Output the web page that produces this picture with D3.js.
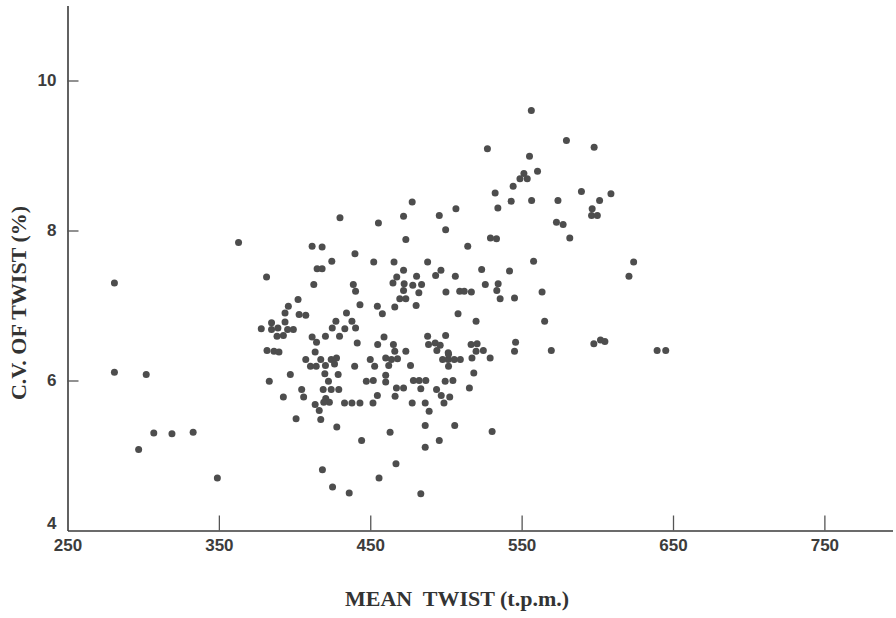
<html>
<head>
  <meta charset="utf-8">
  <title>Mean twist vs C.V. of twist</title>
  <script src="https://d3js.org/d3.v7.min.js"></script>
  <style>
    body { margin: 0; background: #ffffff; }
    .tick text { font-family: "Liberation Sans", Arial, sans-serif; font-weight: bold; font-size: 17px; fill: #3c3c3c; }
    .axis-title { font-family: "Liberation Serif", "Times New Roman", serif; font-weight: bold; font-size: 22px; fill: #333; white-space: pre; }
  </style>
</head>
<body>
  <svg id="chart" width="896" height="618"></svg>
  <script>
    // mean twist (t.p.m.) of each sample
    var meanTwist = [
      281, 281, 302, 307, 319, 333, 297, 349, 363, 381.5,
      430, 455.4, 411.6, 418.2, 439.9, 452.3, 424.6, 414.9, 418.2, 412.7,
      438.8, 440.3, 443.2, 454.7, 402.3, 395.9, 393.7, 403, 407.4, 378,
      384.8, 384.8, 389, 393.7, 395.4, 399.2, 388.4, 392.6, 381.8, 386.4,
      389.7, 397.2, 383.3, 392.6, 404.7, 406, 401, 434.3, 427.3, 424.9,
      433.2, 437.9, 440.3, 420.4, 411.6, 414.5, 429.7, 441.4, 454.9, 413.6,
      407.4, 417.3, 424.2, 427.7, 426.4, 410.5, 414.3, 420.4, 439.7, 450,
      452.9, 420, 428.8, 422.4, 447.4, 452, 418.9, 424.2, 429.2, 454.7,
      420.6, 423, 419.3, 416.3, 413.6, 433, 437.9, 443.2, 451.8, 417.3,
      427.9, 444.3, 418.4, 425.1, 436.1, 455.8,
      544.4, 532.5, 543.1, 556.6, 534.3, 477.7, 506.6, 472, 495.6, 499.8,
      473.5, 529.4, 533.4, 514.4, 465.7, 487.9, 557.9, 472, 496.7, 523.6,
      542, 467.5, 480.6, 493.2, 506.2, 465, 472.4, 478.1, 483.9, 526,
      534.5, 472, 482.1, 500, 509.1, 512.1, 516.8, 533.6, 563.5, 469.5,
      473.5, 535.8, 545.3, 466.2, 480.3, 458, 508, 519.9, 565.2, 459.1,
      487.9, 499.8, 546, 465.3, 488.5, 492.9, 496.2, 516.6, 520.6, 466.2,
      473.5, 494, 501.5, 519.9, 524.7, 545.3, 569.6,
      460.2, 464, 468, 497.8, 501.5, 505.5, 509.5, 501.7, 501.7, 517.2,
      529.2, 462.2, 476.6, 518.4, 460.2, 460.2, 478.5, 482.3, 486.7, 499.5,
      504.6, 467.3, 472, 483.4, 493.8, 515.5, 466.4, 496.9, 502.5, 477.7,
      486.3, 498.7, 488.9, 486.3, 505.8, 463.1, 530.5, 495.6, 486.3, 467,
      483.4,
      579.6, 597.9, 589.5, 609, 574, 601.5, 596.6, 596.2, 600, 573,
      577.4, 581.8, 624, 620.9, 597.7, 602.1, 605, 639.5, 645.2, 556.4,
      527.4, 555.2, 560.5, 551.5, 548.9, 553.7
    ];

    // coefficient of variation of twist (%) of each sample
    var cvTwist = [
      7.30, 6.11, 6.08, 5.30, 5.29, 5.31, 5.08, 4.70, 7.84, 7.38,
      8.17, 8.10, 7.79, 7.78, 7.69, 7.58, 7.59, 7.49, 7.49, 7.28,
      7.28, 7.19, 7.01, 6.99, 7.08, 6.99, 6.90, 6.88, 6.87, 6.69,
      6.77, 6.68, 6.70, 6.78, 6.68, 6.68, 6.59, 6.60, 6.40, 6.39,
      6.38, 6.08, 5.99, 5.78, 5.88, 5.78, 5.49, 6.90, 6.79, 6.70,
      6.69, 6.79, 6.70, 6.59, 6.58, 6.51, 6.59, 6.50, 6.48, 6.38,
      6.28, 6.28, 6.28, 6.30, 6.22, 6.19, 6.19, 6.20, 6.19, 6.28,
      6.19, 6.09, 6.08, 5.99, 5.99, 6.00, 5.88, 5.88, 5.88, 5.80,
      5.76, 5.71, 5.71, 5.60, 5.68, 5.70, 5.70, 5.70, 5.70, 5.48,
      5.38, 5.20, 4.81, 4.58, 4.50, 4.70,
      8.59, 8.50, 8.39, 8.40, 8.30, 8.38, 8.29, 8.19, 8.20, 8.01,
      7.88, 7.90, 7.89, 7.79, 7.58, 7.58, 7.59, 7.47, 7.47, 7.48,
      7.46, 7.38, 7.39, 7.40, 7.39, 7.30, 7.29, 7.27, 7.28, 7.28,
      7.29, 7.20, 7.17, 7.18, 7.19, 7.19, 7.18, 7.20, 7.18, 7.09,
      7.09, 7.09, 7.10, 6.98, 7.00, 6.89, 6.89, 6.79, 6.79, 6.58,
      6.59, 6.60, 6.51, 6.48, 6.48, 6.50, 6.47, 6.48, 6.49, 6.39,
      6.39, 6.40, 6.37, 6.39, 6.40, 6.39, 6.40,
      6.30, 6.28, 6.29, 6.28, 6.28, 6.28, 6.28, 6.35, 6.19, 6.30,
      6.30, 6.20, 6.20, 6.10, 6.07, 5.98, 6.00, 6.00, 6.00, 5.99,
      6.00, 5.90, 5.90, 5.89, 5.88, 5.90, 5.79, 5.80, 5.78, 5.70,
      5.70, 5.70, 5.59, 5.40, 5.40, 5.31, 5.32, 5.20, 5.11, 4.89,
      4.49,
      9.20, 9.11, 8.52, 8.49, 8.40, 8.40, 8.29, 8.20, 8.20, 8.11,
      8.08, 7.90, 7.58, 7.39, 6.49, 6.54, 6.52, 6.40, 6.40, 9.60,
      9.09, 8.99, 8.79, 8.76, 8.69, 8.69
    ];

    var xTicks = [250, 350, 450, 550, 650, 750];
    var yTicks = [4, 6, 8, 10];

    var points = meanTwist.map(function (d, i) { return { twist: d, cv: cvTwist[i] }; });

    var svg = d3.select("#chart");

    var xScale = d3.scaleLinear()
      .domain([250, 795])
      .range([67.5, 892.5]);

    var yScale = d3.scaleLinear()
      .domain([4, 11])
      .range([530.5, 5.5]);

    var xAxis = svg.append("g")
      .attr("class", "axis axis-x")
      .attr("transform", "translate(0,530.5)")
      .call(d3.axisBottom(xScale).tickValues(xTicks).tickFormat(d3.format("d"))
        .tickSize(-15).tickPadding(8).tickSizeOuter(0));

    var yAxis = svg.append("g")
      .attr("class", "axis axis-y")
      .attr("transform", "translate(67.5,0)")
      .call(d3.axisLeft(yScale).tickValues(yTicks).tickFormat(d3.format("d"))
        .tickSize(-11).tickPadding(11).tickSizeOuter(0));

    svg.selectAll(".axis path.domain").attr("stroke", "#3a3a3a").attr("stroke-width", 1.6);
    svg.selectAll(".axis .tick line").attr("stroke", "#555").attr("stroke-width", 1.3);
    // the 250 and 4 ticks sit on the other axis, no mark there
    xAxis.selectAll(".tick").filter(function (d) { return d === 250; }).select("line").remove();
    yAxis.selectAll(".tick").filter(function (d) { return d === 4; }).select("line").remove();
    yAxis.selectAll(".tick").filter(function (d) { return d === 4; }).select("text").attr("dy", "-0.1em");

    // dots
    svg.append("g")
      .selectAll("circle")
      .data(points)
      .enter()
      .append("circle")
      .attr("cx", function (d) { return xScale(d.twist); })
      .attr("cy", function (d) { return yScale(d.cv); })
      .attr("r", 3.5)
      .attr("fill", "#4d4d4d");

    svg.append("text")
      .attr("class", "axis-title")
      .attr("x", 457)
      .attr("y", 606)
      .attr("text-anchor", "middle")
      .text("MEAN  TWIST (t.p.m.)");

    svg.append("text")
      .attr("class", "axis-title")
      .attr("transform", "translate(26,303) rotate(-90)")
      .attr("text-anchor", "middle")
      .text("C.V. OF TWIST (%)");
  </script>
</body>
</html>
